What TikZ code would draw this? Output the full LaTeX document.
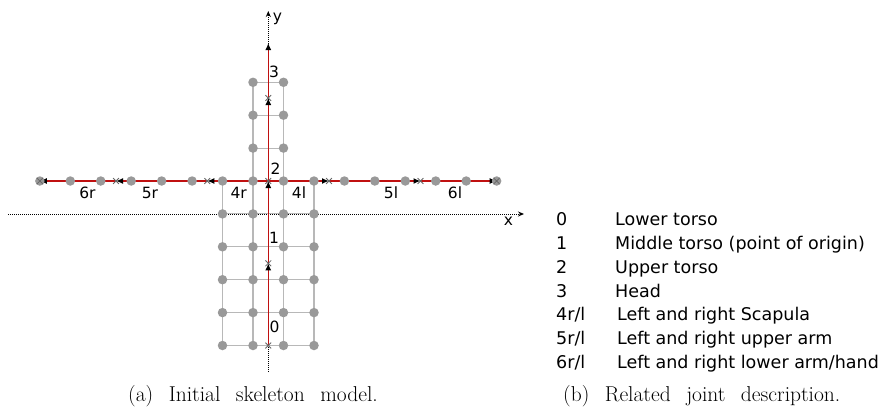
\documentclass[tikz,border=0pt]{standalone}
\usepackage{fontspec}
\newfontfamily\dejavu{DejaVu Sans}
\usetikzlibrary{arrows.meta,shapes.misc}
\definecolor{bonered}{HTML}{C01010}
\begin{document}
\begin{tikzpicture}[x=1pt,y=-1pt,
  gridline/.style={draw=black!28, line width=1.1pt},
  jointdot/.style={circle, fill=black!40, inner sep=0pt, minimum size=9.5pt},
  bone/.style={draw=bonered, line width=1.3pt, -{Latex[length=7pt,width=6pt,black]}},
  axisline/.style={dash pattern=on 1pt off 1pt, line width=0.9pt, -{Stealth[length=6pt,width=5pt]}},
  crossmark/.style={cross out, draw=black!60, line width=0.8pt, minimum size=5pt, inner sep=0pt},
  lbl/.style={font=\dejavu\fontsize{15.5}{18}\selectfont, inner sep=0pt},
  desc/.style={font=\dejavu\fontsize{17.5}{20}\selectfont, inner sep=0pt, anchor=base west},
  capt/.style={font=\fontsize{21.5}{24}\selectfont, inner sep=0pt, anchor=base west},
]
\useasboundingbox (0,0) rectangle (887,407);
% axes
\coordinate (xs) at (8,214);
\coordinate (xe) at (524,214);
\coordinate (ys) at (268.3,372);
\coordinate (ye) at (268.3,11);
\draw[axisline] (xs) -- (xe);
\draw[axisline] (ys) -- (ye);
\node[lbl] (xl) at (508.5,221) {x};
\node[lbl] (yl) at (277.5,19) {y};
% grid lines
\foreach \x in {253,283.5} \draw[gridline] (\x,82.3) -- (\x,345.5);
\foreach \x in {222.5,314} \draw[gridline] (\x,181) -- (\x,345.5);
\foreach \y in {82.3,115.2,148.1} \draw[gridline] (253,\y) -- (283.5,\y);
\foreach \y in {213.9,246.8,279.7,312.6,345.5} \draw[gridline] (222.5,\y) -- (314,\y);
% joints (spine)
\coordinate (j0) at (268.3,345.5);
\coordinate (j1) at (268.3,263.3);
\coordinate (j2) at (268.3,181);
\coordinate (j3) at (268.3,98);
\coordinate (jt) at (268.3,43);
\coordinate (r4) at (207.3,181);
\coordinate (r5) at (116,181);
\coordinate (r6) at (39.9,181);
\coordinate (l4) at (329,181);
\coordinate (l5) at (420.5,181);
\coordinate (l6) at (496.6,181);
% bones
\draw[bone] (j0) -- (j1);
\draw[bone] (j1) -- (j2);
\draw[bone] (j2) -- (j3);
\draw[bone] (j3) -- (jt);
\draw[bone] (j2) -- (r4);
\draw[bone] (r4) -- (r5);
\draw[bone] (r5) -- (r6);
\draw[bone] (j2) -- (l4);
\draw[bone] (l4) -- (l5);
\draw[bone] (l5) -- (l6);
% dots
\foreach \x in {253,283.5} \foreach \y in {82.3,115.2,148.1}
  \node[jointdot] at (\x,\y) {};
\foreach \x in {222.5,253,283.5,314} \foreach \y in {213.9,246.8,279.7,312.6,345.5}
  \node[jointdot] at (\x,\y) {};
\foreach \k in {0,...,7} {
  \node[jointdot] at ({283.5+30.45*\k},181) {};
  \node[jointdot] at ({253-30.45*\k},181) {};
}
% crosses
\foreach \p in {j0,j1,j2,j3,r4,r5,r6,l4,l5,l6}
  \node[crossmark] at (\p) {};
% labels
\node[lbl] (n3) at (274,72) {3};
\node[lbl] (n2) at (275.5,169) {2};
\node[lbl] (n1) at (274,238) {1};
\node[lbl] (n0) at (274.5,327) {0};
\node[lbl] (n4r) at (238.7,193) {4r};
\node[lbl] (n5r) at (150,193) {5r};
\node[lbl] (n6r) at (87.5,193) {6r};
\node[lbl] (n4l) at (299,193) {4l};
\node[lbl] (n5l) at (391,193) {5l};
\node[lbl] (n6l) at (455,193) {6l};
% description table
\node[desc] (d0a) at (556,225.7) {0};
\node[desc] (d0b) at (615,225.7) {Lower torso};
\node[desc] (d1a) at (556,249.5) {1};
\node[desc] (d1b) at (615,249.5) {Middle torso (point of origin)};
\node[desc] (d2a) at (556,273.3) {2};
\node[desc] (d2b) at (615,273.3) {Upper torso};
\node[desc] (d3a) at (556,297.1) {3};
\node[desc] (d3b) at (615,297.1) {Head};
\node[desc] (d4a) at (556,320.9) {4r/l};
\node[desc] (d4b) at (617,320.9) {Left and right Scapula};
\node[desc] (d5a) at (556,344.7) {5r/l};
\node[desc] (d5b) at (617,344.7) {Left and right upper arm};
\node[desc] (d6a) at (556,368.5) {6r/l};
\node[desc] (d6b) at (617,368.5) {Left and right lower arm/hand};
% captions
\node[capt] (ca) at (128,401.5) {\spaceskip=0.72em\relax (a) Initial skeleton model.};
\node[capt] (cb) at (563,401.5) {\spaceskip=0.72em\relax (b) Related joint description.};
\end{tikzpicture}
\end{document}
